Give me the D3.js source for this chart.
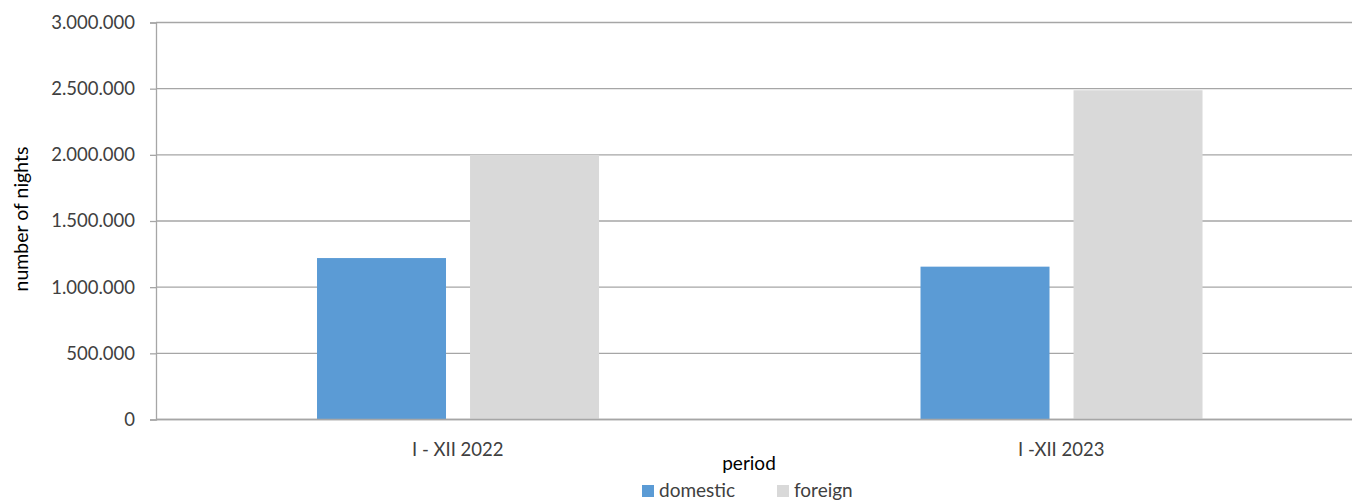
<!DOCTYPE html>
<html>
<head>
<meta charset="utf-8">
<script src="https://cdn.jsdelivr.net/npm/d3@7"></script>
<style>
  html, body { margin: 0; padding: 0; background: #fff; }
  svg { display: block; }
  text { font-family: Lato, "Open Sans", sans-serif; }
</style>
</head>
<body>
<svg id="chart" width="1352" height="502"></svg>
<script>
// ---- data ----
const categories = ["I - XII 2022", "I -XII 2023"];
const seriesNames = ["domestic", "foreign"];
const domesticValues = [1220000, 1155000];
const foreignValues = [2000000, 2488000];
const yTicks = [0, 500000, 1000000, 1500000, 2000000, 2500000, 3000000];
const yTitle = "number of nights";
const xTitle = "period";
const colors = ["#5b9bd5", "#d9d9d9"];

const W = 1352, H = 502;
const svg = d3.select("#chart");

const plotLeft = 156, plotRight = 1363, plotTop = 22.5, plotBottom = 419.5;

const x = d3.scaleBand().domain(categories).range([plotLeft, plotRight]).padding(0);
const bw = x.bandwidth();
const xSub = d3.scaleBand().domain(seriesNames)
  .range([bw * 0.2668, bw * 0.7341]).paddingInner(0.157).paddingOuter(0);
const y = d3.scaleLinear().domain([0, 3000000]).range([plotBottom, plotTop]);

const fmt = d3.formatLocale({decimal: ",", thousands: ".", grouping: [3], currency: ["", ""]}).format(",");

// gridlines
svg.append("g").selectAll("line").data(yTicks).join("line")
  .attr("x1", plotLeft).attr("x2", W)
  .attr("y1", d => y(d)).attr("y2", d => y(d))
  .attr("stroke", "#a6a6a6").attr("stroke-width", 1.3);

// y axis
const yAxis = svg.append("g").attr("transform", `translate(${plotLeft},0)`)
  .call(d3.axisLeft(y).tickValues(yTicks).tickFormat(fmt).tickSize(6).tickPadding(15));
yAxis.select(".domain").attr("stroke", "#a6a6a6").attr("stroke-width", 1.3);
yAxis.selectAll(".tick line").attr("stroke", "#a6a6a6").attr("stroke-width", 1.3);
yAxis.selectAll(".tick text").attr("fill", "#404040").attr("font-size", 18.5).attr("font-family", "Lato, sans-serif");

// bars
const rows = categories.map((c, i) => ({cat: c, vals: [domesticValues[i], foreignValues[i]]}));
const groups = svg.append("g").selectAll("g").data(rows).join("g")
  .attr("transform", d => `translate(${x(d.cat)},0)`);
groups.selectAll("rect").data(d => d.vals.map((v, j) => ({s: seriesNames[j], v, j}))).join("rect")
  .attr("x", d => xSub(d.s))
  .attr("width", xSub.bandwidth())
  .attr("y", d => y(d.v))
  .attr("height", d => y(0) - y(d.v))
  .attr("fill", d => colors[d.j]);

// x axis line
svg.append("line").attr("x1", plotLeft).attr("x2", W).attr("y1", y(0)).attr("y2", y(0))
  .attr("stroke", "#a6a6a6").attr("stroke-width", 1.3);

// x category labels
svg.append("g").selectAll("text").data(categories).join("text")
  .attr("x", d => x(d) + bw / 2).attr("y", 456)
  .attr("text-anchor", "middle").attr("font-size", 18.5).attr("fill", "#404040")
  .text(d => d);

// axis titles
svg.append("text").attr("transform", "translate(28,219) rotate(-90)")
  .attr("text-anchor", "middle").attr("font-size", 19.5).attr("fill", "#000")
  .text(yTitle);
svg.append("text").attr("x", 749).attr("y", 470)
  .attr("text-anchor", "middle").attr("font-size", 19).attr("fill", "#000")
  .text(xTitle);

// legend
const legendX = [642, 777];
const leg = svg.append("g").selectAll("g").data(seriesNames).join("g")
  .attr("transform", (d, i) => `translate(${legendX[i]},485)`);
leg.append("rect").attr("width", 12).attr("height", 12).attr("fill", (d, i) => colors[i]);
leg.append("text").attr("x", 17).attr("y", 12).attr("font-size", 19).attr("fill", "#404040").text(d => d);
</script>
</body>
</html>
